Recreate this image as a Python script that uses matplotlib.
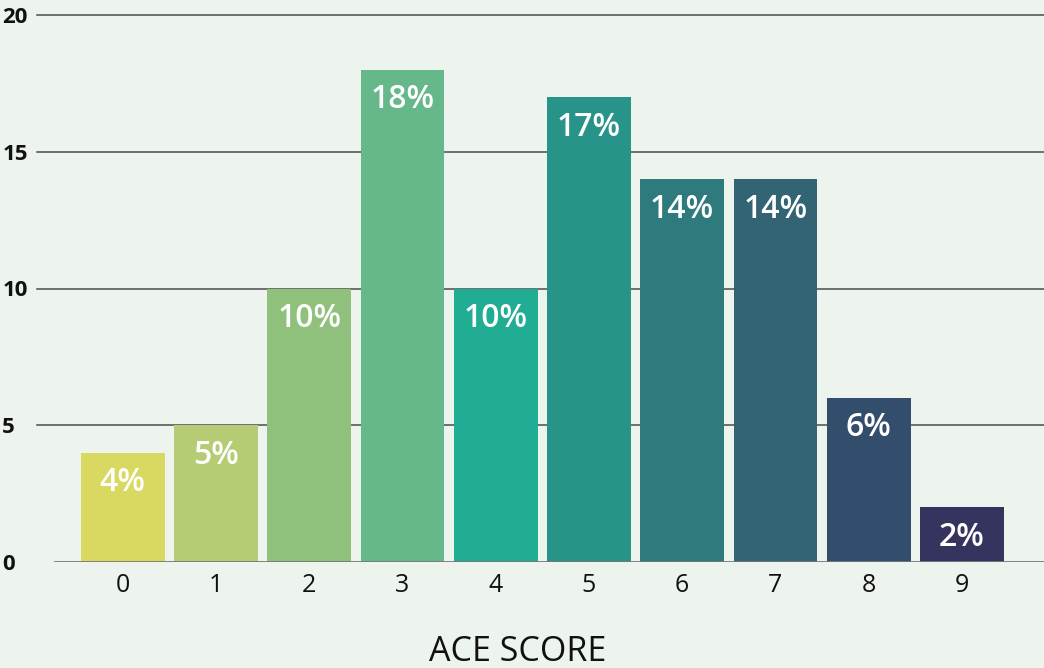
import matplotlib
matplotlib.use("Agg")
import matplotlib.pyplot as plt
from matplotlib import transforms

# ACE score distribution
scores = ["0", "1", "2", "3", "4", "5", "6", "7", "8", "9"]
percent = [4, 5, 10, 18, 10, 17, 14, 14, 6, 2]
bar_colors = ["#D9D860", "#B5CB74", "#8FC17C", "#66B88A", "#20AD93",
              "#289389", "#2E7A7D", "#336474", "#324E6C", "#34345F"]
y_ticks = [0, 5, 10, 15, 20]

bg = "#EDF4EE"
plt.rcParams["font.family"] = ["Open Sans", "DejaVu Sans"]

fig = plt.figure(figsize=(10.44, 6.68), dpi=100, facecolor=bg)
ax = fig.add_axes([37 / 1044, 106 / 668, 1007 / 1044, 547 / 668])
ax.set_facecolor(bg)

x = list(range(len(scores)))
bars = ax.bar(x, percent, width=0.9, color=bar_colors, zorder=3)

# horizontal gridlines (zero line is drawn separately, shorter)
for t in y_ticks[1:]:
    ax.axhline(t, color="#4a4a4a", lw=1.1, zorder=1, clip_on=False)
ax.axhline(0, xmin=18 / 1007, color="#777777", lw=2, zorder=4)

# value labels inside bars
offset = transforms.offset_copy(ax.transData, fig=fig, x=0, y=-30, units="dots")
for xi, v in zip(x, percent):
    ax.text(xi, v, f"{v}%", transform=offset, ha="center", va="center",
            color="white", fontsize=23, fontweight="semibold", zorder=5)

ax.set_xlim(-0.92, 9.88)
ax.set_ylim(0, 20)
ax.set_xticks(x)
ax.set_xticklabels(scores, fontsize=18, color="#111111")
ax.set_yticks(y_ticks)
ax.set_yticklabels([str(t) for t in y_ticks], fontsize=16, fontweight="bold",
                   color="#111111", ha="left")
ax.tick_params(axis="x", length=0, pad=8)
ax.tick_params(axis="y", length=0, pad=25)
for s in ax.spines.values():
    s.set_visible(False)

fig.text(518 / 1044, 16 / 668, "ACE SCORE", ha="center", va="center",
         fontsize=24.5, color="#111111")

fig.savefig("out.png", dpi=100, facecolor=bg)
